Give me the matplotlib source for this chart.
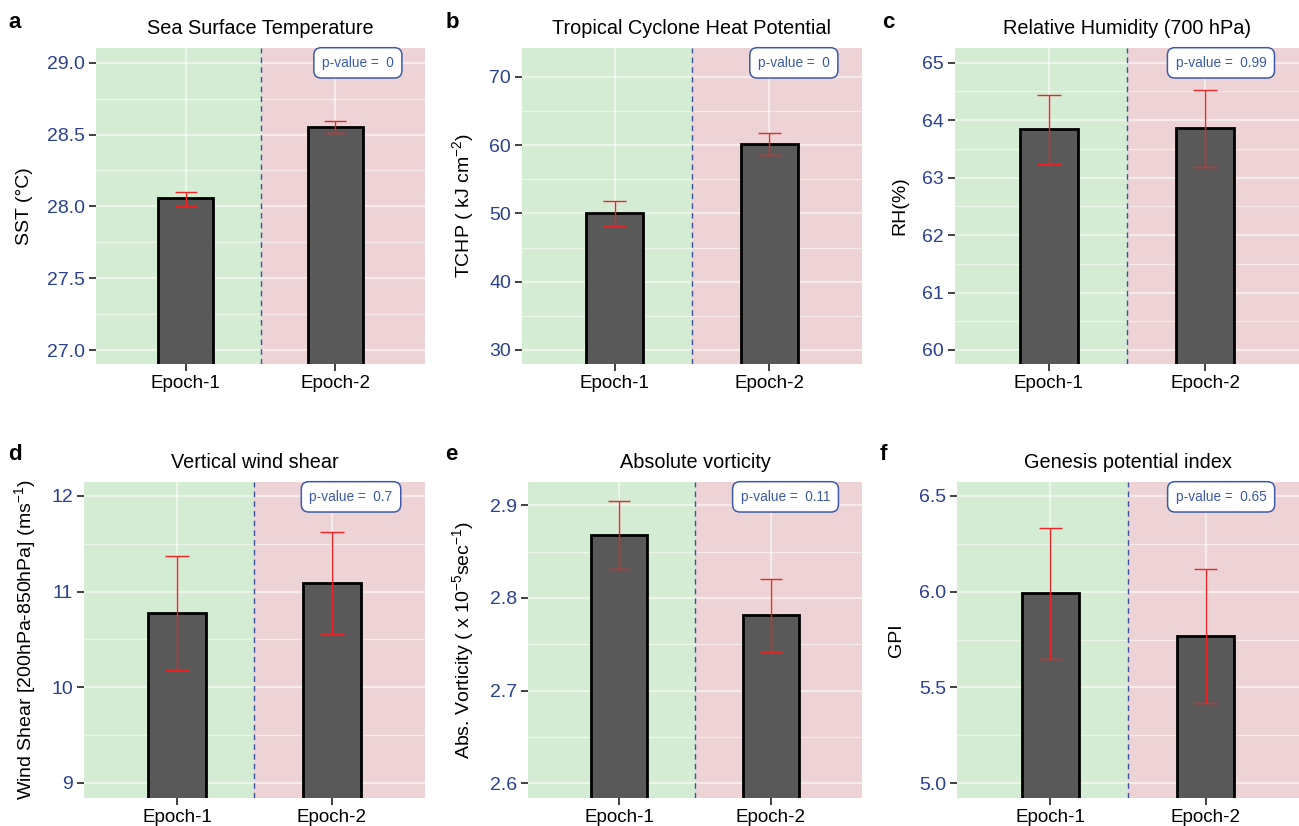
import matplotlib
matplotlib.use("Agg")
import matplotlib.pyplot as plt
import numpy as np

plt.rcParams['font.family'] = ['Liberation Sans', 'DejaVu Sans']
plt.rcParams['mathtext.fontset'] = 'custom'
plt.rcParams['mathtext.rm'] = 'Liberation Sans'
plt.rcParams['mathtext.it'] = 'Liberation Sans:italic'
plt.rcParams['mathtext.bf'] = 'Liberation Sans:bold'

# ---------------- data ----------------
categories = ["Epoch-1", "Epoch-2"]
panel_letters = ["a", "b", "c", "d", "e", "f"]
titles = ["Sea Surface Temperature", "Tropical Cyclone Heat Potential",
          "Relative Humidity (700 hPa)", "Vertical wind shear",
          "Absolute vorticity", "Genesis potential index"]
ylabels = ["SST (°C)", "TCHP ( kJ cm$^{-2}$)", "RH(%)",
           "Wind Shear [200hPa-850hPa] (ms$^{-1}$)",
           "Abs. Vorticity ( x 10$^{-5}$sec$^{-1}$)", "GPI"]
sst_mean = [28.056, 28.555]
sst_lo = [28.005, 28.513]
sst_hi = [28.100, 28.594]
tchp_mean = [50.1, 60.15]
tchp_lo = [48.1, 58.5]
tchp_hi = [51.8, 61.7]
rh_mean = [63.85, 63.86]
rh_lo = [63.24, 63.18]
rh_hi = [64.44, 64.52]
shear_mean = [10.777, 11.09]
shear_lo = [10.178, 10.554]
shear_hi = [11.37, 11.62]
vort_mean = [2.868, 2.781]
vort_lo = [2.831, 2.742]
vort_hi = [2.904, 2.820]
gpi_mean = [5.993, 5.768]
gpi_lo = [5.648, 5.418]
gpi_hi = [6.331, 6.118]
p_values = ["0", "0", "0.99", "0.7", "0.11", "0.65"]
ylims = [(26.903, 29.102), (27.95, 74.2), (59.756, 65.256),
         (8.843, 12.146), (2.584, 2.925), (4.922, 6.573)]
major_ticks = [[27.0, 27.5, 28.0, 28.5, 29.0], [30, 40, 50, 60, 70],
               [60, 61, 62, 63, 64, 65], [9, 10, 11, 12],
               [2.6, 2.7, 2.8, 2.9], [5.0, 5.5, 6.0, 6.5]]
tick_fmt = ["{:.1f}", "{:.0f}", "{:.0f}", "{:.0f}", "{:.1f}", "{:.1f}"]

means = [sst_mean, tchp_mean, rh_mean, shear_mean, vort_mean, gpi_mean]
los = [sst_lo, tchp_lo, rh_lo, shear_lo, vort_lo, gpi_lo]
his = [sst_hi, tchp_hi, rh_hi, shear_hi, vort_hi, gpi_hi]

# ---------------- layout (pixels) ----------------
W, H = 1299, 826
fig = plt.figure(figsize=(W / 100, H / 100), dpi=100)
boxes = [(96, 48, 425, 364), (522, 48, 862, 364), (955, 48, 1299, 364),
         (84, 482, 425, 798), (528, 482, 862, 798), (957, 482, 1299, 798)]
label_right = [33, 476, 908, 38, 476, 905]
letter_pos = [(8, 22), (446, 22), (882, 22), (8, 455), (445, 455), (880, 455)]

green = "#D3ECD3"
red = "#EDD3D5"
blue_txt = "#2B4190"
pbox_col = "#3C5AA8"
err_col = "#F02424"

x = np.array([1.0, 2.0])
for i in range(6):
    x0, y0, x1, y1 = boxes[i]
    ax = fig.add_axes([x0 / W, 1 - y1 / H, (x1 - x0) / W, (y1 - y0) / H])
    lo_y, hi_y = ylims[i]
    ax.set_xlim(0.4, 2.6)
    ax.set_ylim(lo_y, hi_y)
    # background regions
    ax.axvspan(0.4, 1.5, color=green, lw=0, zorder=0)
    ax.axvspan(1.5, 2.6, color=red, lw=0, zorder=0)
    # grid
    mt = major_ticks[i]
    step = mt[1] - mt[0]
    minor = [m + step / 2 for m in [mt[0] - step] + mt]
    for yv in mt:
        ax.axhline(yv, color="white", alpha=0.55, lw=1.6, zorder=1)
    for yv in minor:
        ax.axhline(yv, color="white", alpha=0.55, lw=0.9, zorder=1)
    for xv in x:
        ax.axvline(xv, color="white", alpha=0.55, lw=1.6, zorder=1)
    # bars
    m = np.array(means[i])
    ax.bar(x, m - lo_y + 10 * (hi_y - lo_y), bottom=lo_y - 10 * (hi_y - lo_y),
           width=0.37, color="#595959", edgecolor="black", lw=2.0, zorder=2)
    # error bars
    lo = np.array(los[i]); hi = np.array(his[i])
    ax.vlines(x, lo, hi, color=err_col, lw=1.0, zorder=3)
    ax.hlines(lo, x - 0.075, x + 0.075, color=err_col, lw=1.0, zorder=3)
    ax.hlines(hi, x - 0.075, x + 0.075, color=err_col, lw=1.0, zorder=3)
    # dashed divider
    ax.axvline(1.5, color="#3B52A0", lw=1.0, ls=(0, (4, 3)), zorder=2)
    # p-value box
    ax.text(0.905, 0.953, "p-value =  " + p_values[i], transform=ax.transAxes,
            ha="right", va="center", fontsize=9.8, color=pbox_col, zorder=5,
            bbox=dict(boxstyle="round,pad=0.6,rounding_size=0.55", fc="white",
                      ec=pbox_col, lw=1.1))
    # axes styling
    for s in ax.spines.values():
        s.set_visible(False)
    ax.set_xticks(x)
    ax.set_xticklabels(categories, fontsize=13.5, color="black")
    ax.set_yticks(mt)
    ax.set_yticklabels([tick_fmt[i].format(v) for v in mt], fontsize=14,
                       color=blue_txt)
    ax.tick_params(axis="both", length=5, width=1.3, color="#333333", pad=3)
    ax.set_title(titles[i], fontsize=14.3, pad=10)
    ax.set_ylabel(ylabels[i], fontsize=14)
    ax.yaxis.set_label_coords((label_right[i] - x0) / (x1 - x0), 0.5)
    ax.grid(False)
    lx, ly = letter_pos[i]
    fig.text(lx / W, 1 - ly / H, panel_letters[i], fontsize=16,
             fontweight="bold", ha="left", va="center")

fig.savefig("out.png", dpi=100, facecolor="white")
